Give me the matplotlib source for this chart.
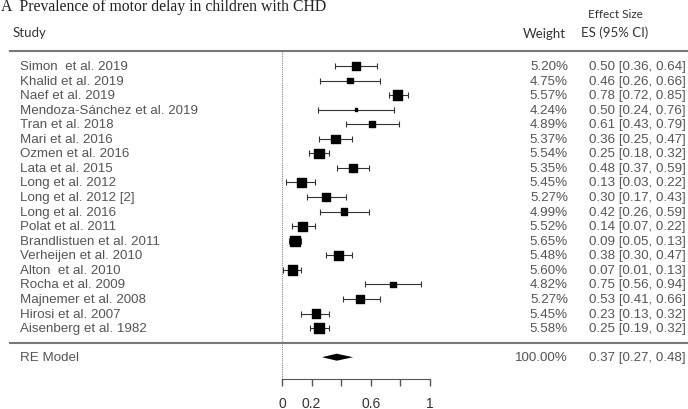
import matplotlib
matplotlib.use("Agg")
from matplotlib import pyplot as plt
import numpy as np

studies = ["Simon  et al. 2019", "Khalid et al. 2019", "Naef et al. 2019",
           "Mendoza-Sánchez et al. 2019", "Tran et al. 2018", "Mari et al. 2016",
           "Ozmen et al. 2016", "Lata et al. 2015", "Long et al. 2012",
           "Long et al. 2012 [2]", "Long et al. 2016", "Polat et al. 2011",
           "Brandlistuen et al. 2011", "Verheijen et al. 2010", "Alton  et al. 2010",
           "Rocha et al. 2009", "Majnemer et al. 2008", "Hirosi et al. 2007",
           "Aisenberg et al. 1982"]
weights = [5.20, 4.75, 5.57, 4.24, 4.89, 5.37, 5.54, 5.35, 5.45, 5.27,
           4.99, 5.52, 5.65, 5.48, 5.60, 4.82, 5.27, 5.45, 5.58]
es = [0.50, 0.46, 0.78, 0.50, 0.61, 0.36, 0.25, 0.48, 0.13, 0.30,
      0.42, 0.14, 0.09, 0.38, 0.07, 0.75, 0.53, 0.23, 0.25]
lo = [0.36, 0.26, 0.72, 0.24, 0.43, 0.25, 0.18, 0.37, 0.03, 0.17,
      0.26, 0.07, 0.05, 0.30, 0.01, 0.56, 0.41, 0.13, 0.19]
hi = [0.64, 0.66, 0.85, 0.76, 0.79, 0.47, 0.32, 0.59, 0.22, 0.43,
      0.59, 0.22, 0.13, 0.47, 0.13, 0.94, 0.66, 0.32, 0.32]
re_es, re_lo, re_hi = 0.37, 0.27, 0.48
xticks = [0, 0.2, 0.4, 0.6, 0.8, 1]
xticklabels = ["0", "0.2", "", "0.6", "", "1"]

W, H = 688, 410
x0_px, unit_px = 282, 148      # pixel of x=0 and pixels per unit
row0_px, row_px = 67, 14.56    # pixel of first row and row spacing

def px(p):
    return (p - x0_px) / unit_px

fig = plt.figure(figsize=(W / 100, H / 100), dpi=100, facecolor="white")
ax = fig.add_axes([0, 0, 1, 1])
ax.set_xlim(px(0), px(W))
ax.set_ylim((H - row0_px) / row_px, -row0_px / row_px)

n = len(studies)
rows = np.arange(n)
re_row = n + 1

gray = "#555555"
tfont = dict(family="Liberation Sans", fontsize=9.6, color=gray)

# error bars and squares
ax.errorbar(es, rows, xerr=[np.subtract(es, lo), np.subtract(hi, es)],
            fmt="none", ecolor="#333333", elinewidth=0.8, capsize=2.2, capthick=0.8)
side = 2.5 + (np.array(weights) - min(weights)) * 5.3
ax.scatter(es, rows, marker="s", s=(side * 0.72) ** 2, color="black", zorder=3)

# summary diamond
ax.fill([re_lo, re_es, re_hi, re_es], [re_row, re_row - 0.24, re_row, re_row + 0.24],
        color="black", lw=0)

# reference line and separators
ax.vlines(0, -1, 21.5, colors="#888888", linestyles=(0, (1, 1)), lw=0.8)
ax.axhline(-1, xmin=10 / W, xmax=1, color="#777777", lw=1.5)
ax.axhline(n, xmin=10 / W, xmax=1, color="#777777", lw=1.5)

# x axis
for s in ["top", "left", "right"]:
    ax.spines[s].set_visible(False)
ax.spines["bottom"].set_position(("data", 21.5))
ax.spines["bottom"].set_bounds(0, 1)
ax.spines["bottom"].set_color("#555555")
ax.set_xticks(xticks)
ax.set_xticklabels(xticklabels)
ax.tick_params(axis="x", direction="out", length=5, width=1, color="#555555",
               pad=7, labelsize=10, labelcolor="#333333")
for lab in ax.get_xticklabels():
    lab.set_family("Liberation Sans")
ax.set_yticks([])

# text columns
for i in range(n):
    ax.text(px(20), rows[i], studies[i], ha="left", va="center", **tfont)
    ax.text(px(568), rows[i], f"{weights[i]:.2f}%", ha="right", va="center", **tfont)
    ax.text(px(686), rows[i], f"{es[i]:.2f} [{lo[i]:.2f}, {hi[i]:.2f}]",
            ha="right", va="center", **tfont)
ax.text(px(20), re_row, "RE Model", ha="left", va="center", **tfont)
ax.text(px(568), re_row, "100.00%", ha="right", va="center", **tfont)
ax.text(px(686), re_row, f"{re_es:.2f} [{re_lo:.2f}, {re_hi:.2f}]",
        ha="right", va="center", **tfont)

# headers
hfont = dict(family="Lato", fontsize=9.5, color="#333333")
ax.text(px(13), (33 - row0_px) / row_px, "Study", ha="left", va="center", **hfont)
ax.text(px(566), (34 - row0_px) / row_px, "Weight", ha="right", va="center", **hfont)
ax.text(px(615), (15 - row0_px) / row_px, "Effect Size", ha="center", va="center",
        family="Lato", fontsize=8.5, color="#333333")
ax.text(px(615), (33 - row0_px) / row_px, "ES (95% CI)", ha="center", va="center", **hfont)

# title
fig.text(1 / W, 1 - 11 / H, "A  Prevalence of motor delay in children with CHD",
         ha="left", va="baseline", family="Liberation Serif", fontsize=11.3, color="#222222")

plt.savefig("out.png", dpi=100)
